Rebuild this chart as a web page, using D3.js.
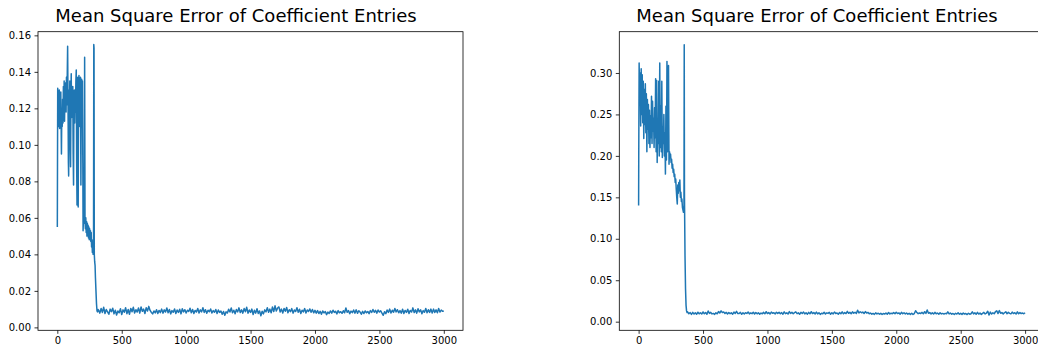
<!DOCTYPE html>
<html>
<head>
<meta charset="utf-8">
<script src="https://cdn.jsdelivr.net/npm/d3@7"></script>
<style>
  html, body { margin: 0; padding: 0; background: #fff; }
  svg { display: block; font-family: "DejaVu Sans", sans-serif; }
  .tick text { font-size: 10px; fill: #000; font-family: "DejaVu Sans", sans-serif; }
  .tick line { stroke: #000; stroke-width: 0.8; }
  .domain { display: none; }
</style>
</head>
<body>
<svg id="chart" width="1038" height="354"></svg>
<script>
// ---- Run A: MSE during the unstable start-up phase (iteration, value)
const runASteps = [0,3,6,9,12,15,18,21,24,27,30,32,35,38,41,44,47,50,53,56,59,62,65,68,71,74,77,80,83,86,88,91,94,97,100,103,106,108,111,114,117,120,123,126,129,132,135,138,141,144,147,150,153,156,159,162,165,168,171,174,177,180,183,186,189,192,195,198,200,203,206,209,212,215,218,221,224,227,230,233,236,239,242,245,248,251,254,257,260,263,266,269,272,275,278,281,283,285,287,290,293,296,300,304,308,312,316];
const runAValues = [0.055,0.131,0.112,0.128,0.110,0.130,0.109,0.126,0.112,0.129,0.108,0.095,0.120,0.110,0.125,0.112,0.132,0.115,0.135,0.113,0.128,0.120,0.134,0.118,0.137,0.122,0.138,0.154,0.124,0.090,0.083,0.130,0.118,0.135,0.100,0.088,0.130,0.139,0.115,0.125,0.120,0.132,0.095,0.078,0.126,0.130,0.112,0.128,0.118,0.135,0.141,0.090,0.067,0.125,0.137,0.066,0.130,0.138,0.110,0.136,0.125,0.137,0.078,0.130,0.136,0.120,0.135,0.090,0.053,0.060,0.057,0.062,0.148,0.058,0.054,0.060,0.052,0.058,0.050,0.057,0.051,0.056,0.049,0.055,0.048,0.054,0.049,0.053,0.047,0.052,0.044,0.048,0.041,0.045,0.040,0.042,0.155,0.153,0.040,0.036,0.034,0.027,0.020,0.013,0.009,0.0085,0.0098];

// ---- Run A: converged phase, one reading every 10 iterations from 320 to 3000
const runATailStart = 320;
const runATailValues = [
  0.0095,0.0078,0.0104,0.0082,0.0110,0.0076,0.0098,0.0085,0.0072,0.0100,
  0.0086,0.0105,0.0074,0.0094,0.0068,0.0090,0.0080,0.0102,0.0070,0.0096,
  0.0083,0.0108,0.0075,0.0098,0.0072,0.0104,0.0086,0.0110,0.0079,0.0097,
  0.0084,0.0106,0.0078,0.0112,0.0088,0.0100,0.0076,0.0108,0.0090,0.0115,
  0.0093,0.0082,0.0074,0.0090,0.0079,0.0097,0.0076,0.0093,0.0081,0.0100,
  0.0078,0.0096,0.0084,0.0106,0.0080,0.0098,0.0074,0.0092,0.0083,0.0101,
  0.0076,0.0095,0.0082,0.0099,0.0074,0.0102,0.0085,0.0097,0.0079,0.0094,
  0.0087,0.0105,0.0080,0.0098,0.0076,0.0093,0.0084,0.0104,0.0079,0.0096,
  0.0085,0.0108,0.0082,0.0097,0.0077,0.0094,0.0086,0.0101,0.0079,0.0092,
  0.0083,0.0098,0.0076,0.0095,0.0082,0.0090,0.0072,0.0087,0.0066,0.0085,
  0.0079,0.0099,0.0084,0.0106,0.0080,0.0094,0.0075,0.0098,0.0085,0.0107,
  0.0081,0.0096,0.0078,0.0103,0.0086,0.0110,0.0078,0.0095,0.0082,0.0100,
  0.0070,0.0094,0.0078,0.0102,0.0076,0.0090,0.0064,0.0088,0.0074,0.0096,
  0.0085,0.0108,0.0083,0.0100,0.0080,0.0112,0.0087,0.0118,0.0090,0.0106,
  0.0112,0.0084,0.0100,0.0079,0.0104,0.0088,0.0109,0.0080,0.0097,0.0086,
  0.0103,0.0078,0.0095,0.0087,0.0108,0.0083,0.0099,0.0076,0.0094,0.0085,
  0.0103,0.0079,0.0095,0.0087,0.0101,0.0083,0.0098,0.0080,0.0093,0.0078,
  0.0092,0.0076,0.0088,0.0072,0.0090,0.0079,0.0087,0.0070,0.0084,0.0076,
  0.0090,0.0078,0.0094,0.0082,0.0088,0.0074,0.0092,0.0080,0.0086,0.0077,
  0.0091,0.0080,0.0106,0.0083,0.0092,0.0075,0.0089,0.0081,0.0095,0.0078,
  0.0096,0.0077,0.0091,0.0084,0.0072,0.0088,0.0076,0.0090,0.0080,0.0087,
  0.0075,0.0092,0.0082,0.0098,0.0083,0.0093,0.0078,0.0095,0.0084,0.0091,
  0.0078,0.0066,0.0086,0.0075,0.0095,0.0082,0.0100,0.0079,0.0094,0.0083,
  0.0104,0.0085,0.0097,0.0080,0.0092,0.0078,0.0099,0.0076,0.0093,0.0082,
  0.0099,0.0076,0.0093,0.0084,0.0107,0.0081,0.0096,0.0078,0.0102,0.0085,
  0.0096,0.0075,0.0092,0.0083,0.0104,0.0080,0.0097,0.0082,0.0100,0.0079,
  0.0100,0.0082,0.0096,0.0080,0.0104,0.0084,0.0095,0.0088,0.0090
];

// ---- Run B: MSE during the unstable start-up phase (iteration, value)
const runBSteps = [0,1,4,8,12,16,20,24,28,32,36,40,44,48,52,56,60,64,68,72,76,80,84,88,92,96,100,104,108,112,116,120,124,128,132,136,140,144,148,152,156,160,164,168,172,176,180,184,188,192,196,200,204,208,212,216,220,224,228,232,236,240,244,248,252,256,260,264,268,272,276,280,284,288,292,296,300,304,308,312,316,320,324,328,332,336,340,344,348,352,354,356,360,364,368,372,376];
const runBValues = [0.140,0.200,0.312,0.262,0.300,0.236,0.305,0.250,0.298,0.240,0.290,0.221,0.280,0.238,0.287,0.228,0.275,0.205,0.268,0.232,0.262,0.215,0.255,0.210,0.248,0.222,0.272,0.215,0.266,0.230,0.245,0.210,0.258,0.222,0.293,0.205,0.291,0.192,0.245,0.215,0.290,0.200,0.312,0.210,0.260,0.205,0.290,0.198,0.235,0.215,0.250,0.200,0.228,0.178,0.260,0.195,0.314,0.205,0.285,0.309,0.190,0.205,0.198,0.202,0.192,0.196,0.185,0.190,0.180,0.184,0.175,0.178,0.168,0.172,0.160,0.150,0.142,0.165,0.155,0.168,0.158,0.171,0.150,0.156,0.145,0.148,0.138,0.135,0.132,0.140,0.334,0.150,0.080,0.040,0.020,0.013,0.011];

// ---- Run B: converged phase, one reading every 10 iterations from 380 to 3000
const runBTailStart = 380;
const runBTailValues = [
  0.0118,0.0096,0.0110,0.0088,0.0112,0.0092,0.0106,0.0090,0.0114,0.0095,
  0.0108,0.0092,0.0117,0.0096,0.0110,0.0089,0.0128,0.0100,0.0112,0.0094,
  0.0100,0.0088,0.0108,0.0095,0.0122,0.0104,0.0130,0.0110,0.0118,0.0098,
  0.0112,0.0094,0.0110,0.0096,0.0106,0.0090,0.0116,0.0100,0.0124,0.0098,
  0.0098,0.0112,0.0090,0.0106,0.0094,0.0108,0.0100,0.0117,0.0094,0.0106,
  0.0097,0.0113,0.0092,0.0110,0.0095,0.0108,0.0090,0.0104,0.0096,0.0112,
  0.0095,0.0120,0.0098,0.0110,0.0092,0.0115,0.0101,0.0108,0.0094,0.0114,
  0.0100,0.0112,0.0096,0.0109,0.0090,0.0118,0.0097,0.0106,0.0092,0.0122,
  0.0100,0.0112,0.0096,0.0109,0.0118,0.0097,0.0106,0.0090,0.0113,0.0099,
  0.0116,0.0094,0.0108,0.0091,0.0112,0.0095,0.0120,0.0098,0.0110,0.0093,
  0.0116,0.0094,0.0108,0.0088,0.0102,0.0096,0.0113,0.0092,0.0106,0.0100,
  0.0112,0.0090,0.0108,0.0094,0.0116,0.0098,0.0104,0.0089,0.0110,0.0096,
  0.0118,0.0095,0.0110,0.0098,0.0124,0.0101,0.0112,0.0096,0.0118,0.0102,
  0.0114,0.0100,0.0138,0.0105,0.0120,0.0108,0.0116,0.0099,0.0122,0.0104,
  0.0112,0.0096,0.0104,0.0090,0.0099,0.0088,0.0106,0.0094,0.0102,0.0090,
  0.0100,0.0087,0.0098,0.0092,0.0105,0.0090,0.0110,0.0094,0.0102,0.0097,
  0.0110,0.0095,0.0114,0.0098,0.0106,0.0091,0.0112,0.0096,0.0108,0.0094,
  0.0104,0.0090,0.0100,0.0088,0.0102,0.0087,0.0098,0.0132,0.0110,0.0096,
  0.0105,0.0098,0.0112,0.0095,0.0120,0.0100,0.0140,0.0102,0.0110,0.0094,
  0.0106,0.0092,0.0112,0.0096,0.0104,0.0090,0.0108,0.0094,0.0100,0.0092,
  0.0100,0.0096,0.0118,0.0094,0.0104,0.0090,0.0099,0.0087,0.0101,0.0092,
  0.0106,0.0090,0.0100,0.0088,0.0104,0.0092,0.0098,0.0086,0.0102,0.0090,
  0.0096,0.0118,0.0094,0.0106,0.0090,0.0112,0.0092,0.0104,0.0088,0.0100,
  0.0112,0.0094,0.0104,0.0125,0.0080,0.0115,0.0092,0.0108,0.0096,0.0120,
  0.0130,0.0098,0.0134,0.0102,0.0110,0.0094,0.0108,0.0120,0.0096,0.0112,
  0.0100,0.0094,0.0115,0.0098,0.0108,0.0092,0.0118,0.0096,0.0110,0.0098,
  0.0104,0.0096,0.0108
];

const tailInterval = 10;
const xTicks = [0, 500, 1000, 1500, 2000, 2500, 3000];
const runAYTicks = [0.00, 0.02, 0.04, 0.06, 0.08, 0.10, 0.12, 0.14, 0.16];
const runBYTicks = [0.00, 0.05, 0.10, 0.15, 0.20, 0.25, 0.30];
const chartTitle = "Mean Square Error of Coefficient Entries";

function joinSeries(steps, values, tailStart, tailValues) {
  const pts = steps.map((s, i) => [s, values[i]]);
  tailValues.forEach((v, i) => pts.push([tailStart + i * tailInterval, v]));
  return pts;
}

const svg = d3.select("#chart");
const axW = 425, axTop = 31.7, axBottom = 330.3;

function drawPanel(left, points, yDomain, yTicks, titleX) {
  const x = d3.scaleLinear().domain([-150, 3149]).range([left, left + axW]);
  const y = d3.scaleLinear().domain(yDomain).range([axBottom, axTop]);
  const g = svg.append("g");

  g.append("path")
    .datum(points)
    .attr("fill", "none")
    .attr("stroke", "#1f77b4")
    .attr("stroke-width", 1.5)
    .attr("stroke-linejoin", "round")
    .attr("d", d3.line().x(d => x(d[0])).y(d => y(d[1])));

  g.append("g")
    .attr("transform", `translate(0,${axBottom})`)
    .call(d3.axisBottom(x).tickValues(xTicks).tickFormat(d3.format("d"))
      .tickSize(3.5).tickPadding(3.5).tickSizeOuter(0));

  g.append("g")
    .attr("transform", `translate(${left},0)`)
    .call(d3.axisLeft(y).tickValues(yTicks).tickFormat(d3.format(".2f"))
      .tickSize(3.5).tickPadding(3.5).tickSizeOuter(0));

  g.append("rect")
    .attr("x", left).attr("y", axTop)
    .attr("width", axW).attr("height", axBottom - axTop)
    .attr("fill", "none").attr("stroke", "#000").attr("stroke-width", 0.8);

  svg.append("text")
    .attr("x", titleX).attr("y", 21.7)
    .attr("text-anchor", "middle")
    .attr("font-size", 18).attr("fill", "#000")
    .text(chartTitle);
}

drawPanel(38, joinSeries(runASteps, runAValues, runATailStart, runATailValues),
  [-0.0016, 0.162], runAYTicks, 236);
drawPanel(619.3, joinSeries(runBSteps, runBValues, runBTailStart, runBTailValues),
  [-0.0104, 0.3498], runBYTicks, 817);
</script>
</body>
</html>
